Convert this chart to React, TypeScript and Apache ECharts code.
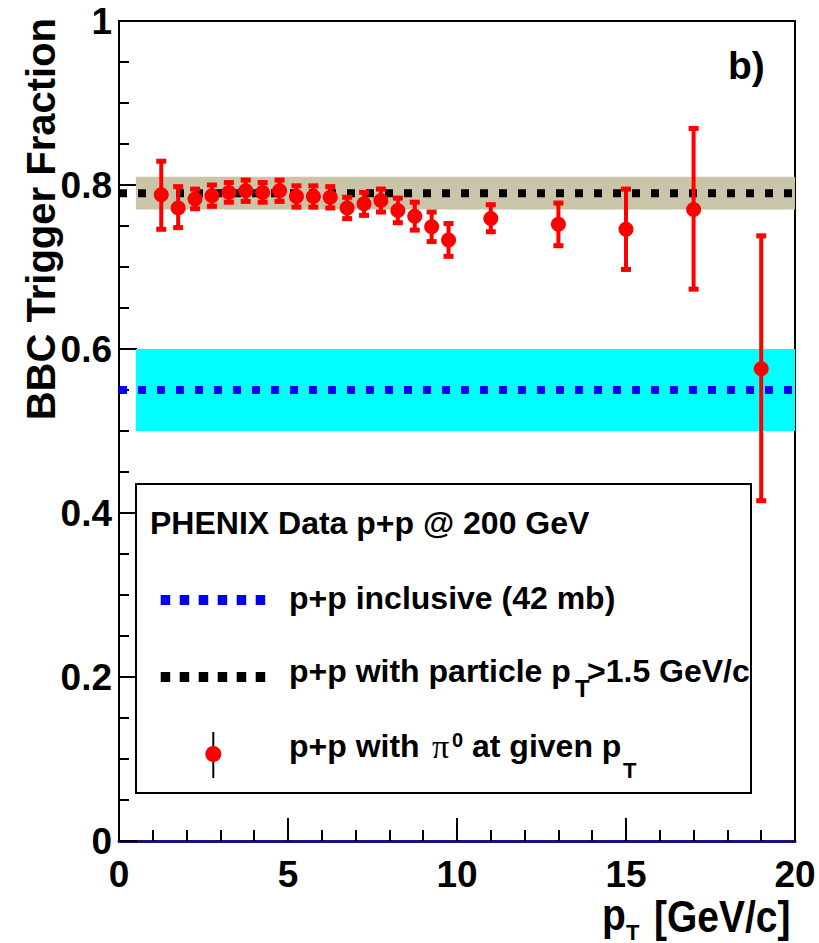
import React, { useEffect, useRef } from "react";
import * as echarts from "echarts";

// ---- data ----
const PT = [1.25, 1.75, 2.25, 2.75, 3.25, 3.75, 4.25, 4.75, 5.25, 5.75, 6.25, 6.75, 7.25, 7.75, 8.25, 8.75, 9.25, 9.75, 11, 13, 15, 17, 19];
const FRACTION = [0.788, 0.772, 0.783, 0.787, 0.791, 0.793, 0.791, 0.793, 0.786, 0.786, 0.785, 0.772, 0.777, 0.781, 0.769, 0.762, 0.749, 0.733, 0.759, 0.752, 0.746, 0.770, 0.576];
const ERR_LOW = [0.746, 0.748, 0.771, 0.774, 0.779, 0.780, 0.779, 0.780, 0.773, 0.773, 0.772, 0.759, 0.763, 0.767, 0.754, 0.745, 0.731, 0.713, 0.743, 0.726, 0.697, 0.673, 0.415];
const ERR_HIGH = [0.829, 0.798, 0.795, 0.800, 0.803, 0.806, 0.803, 0.806, 0.799, 0.799, 0.798, 0.785, 0.791, 0.795, 0.784, 0.779, 0.767, 0.753, 0.776, 0.778, 0.795, 0.869, 0.738];

const INCLUSIVE_LEVEL = 0.55;
const INCLUSIVE_BAND = [0.5, 0.6];
const PARTICLE_LEVEL = 0.79;
const PARTICLE_BAND = [0.77, 0.81];
const BAND_X = [0.5, 20];
const X_RANGE = [0, 20];
const Y_RANGE = [0, 1];

const SANS = '"Liberation Sans", Arial, Helvetica, sans-serif';

function buildOption() {
  const bandData = [
    [BAND_X[0], BAND_X[1], INCLUSIVE_BAND[0], INCLUSIVE_BAND[1]],
    [BAND_X[0], BAND_X[1], PARTICLE_BAND[0], PARTICLE_BAND[1]],
  ];
  const bandColors = ["#00FFFF", "#CAC4A8"];
  const errData = PT.map((x, i) => [x, ERR_LOW[i], ERR_HIGH[i]]);
  const pointData = PT.map((x, i) => [x, FRACTION[i]]);

  const txt = (text: string, x: number, y: number, size: number, opts: any = {}) => ({
    type: "text",
    z: 100,
    x: opts.x0 || 0,
    y: opts.y0 || 0,
    rotation: opts.rotation || 0,
    scaleX: opts.scaleX || 1,
    scaleY: opts.scaleY || 1,
    style: {
      text,
      x,
      y,
      fill: "#000",
      fontSize: size,
      fontWeight: opts.weight || "bold",
      fontFamily: opts.family || SANS,
      align: opts.align || "left",
      verticalAlign: "middle",
      textAlign: opts.align || "left",
      textVerticalAlign: "middle",
    },
  });

  return {
    animation: false,
    backgroundColor: "#fff",
    grid: {
      left: 119,
      right: 24,
      top: 21,
      bottom: 102,
      show: true,
      borderColor: "#000",
      borderWidth: 2,
      backgroundColor: "transparent",
    },
    xAxis: {
      type: "value",
      min: X_RANGE[0],
      max: X_RANGE[1],
      interval: 5,
      axisLine: { show: true, lineStyle: { color: "#14147a", width: 3 } },
      axisTick: { show: true, inside: true, length: 23, lineStyle: { color: "#000", width: 2 } },
      minorTick: { show: true, splitNumber: 5, length: 11, lineStyle: { color: "#000", width: 2 } },
      splitLine: { show: false },
      axisLabel: {
        margin: 15,
        color: "#000",
        fontSize: 37,
        fontWeight: "bold",
        fontFamily: SANS,
      },
    },
    yAxis: {
      type: "value",
      min: Y_RANGE[0],
      max: Y_RANGE[1],
      interval: 0.2,
      axisLine: { show: true, lineStyle: { color: "#000", width: 2 } },
      axisTick: { show: true, inside: true, length: 18, lineStyle: { color: "#000", width: 2 } },
      minorTick: { show: true, splitNumber: 4, length: 10, lineStyle: { color: "#000", width: 2 } },
      splitLine: { show: false },
      axisLabel: {
        margin: 7,
        color: "#000",
        fontSize: 37,
        fontWeight: "bold",
        fontFamily: SANS,
        formatter: (v: number) => (v === 0 ? "0" : v === 1 ? "1" : v.toFixed(1)),
      },
    },
    series: [
      {
        type: "custom",
        name: "bands",
        z: 1,
        silent: true,
        data: bandData,
        encode: { x: [0, 1], y: [2, 3] },
        renderItem: (params: any, api: any) => {
          const p0 = api.coord([api.value(0), api.value(3)]);
          const p1 = api.coord([api.value(1), api.value(2)]);
          return {
            type: "rect",
            shape: { x: p0[0], y: p0[1], width: p1[0] - p0[0], height: p1[1] - p0[1] },
            style: { fill: bandColors[params.dataIndex] },
          };
        },
      },
      {
        type: "line",
        name: "p+p inclusive (42 mb)",
        z: 2,
        silent: true,
        showSymbol: false,
        symbol: "none",
        data: [[X_RANGE[0], INCLUSIVE_LEVEL], [X_RANGE[1], INCLUSIVE_LEVEL]],
        lineStyle: { color: "#0000FF", width: 8, type: [8, 11], cap: "butt" },
      },
      {
        type: "line",
        name: "p+p with particle pT>1.5 GeV/c",
        z: 2,
        silent: true,
        showSymbol: false,
        symbol: "none",
        data: [[X_RANGE[0], PARTICLE_LEVEL], [X_RANGE[1], PARTICLE_LEVEL]],
        lineStyle: { color: "#000000", width: 8, type: [8, 11], cap: "butt" },
      },
      {
        type: "custom",
        name: "errors",
        z: 3,
        silent: true,
        data: errData,
        encode: { x: 0, y: [1, 2] },
        renderItem: (params: any, api: any) => {
          const x = api.value(0);
          const top = api.coord([x, api.value(2)]);
          const bot = api.coord([x, api.value(1)]);
          return {
            type: "group",
            children: [
              {
                type: "line",
                shape: { x1: top[0], y1: top[1], x2: bot[0], y2: bot[1] },
                style: { stroke: "#FF0000", lineWidth: 4 },
              },
              {
                type: "rect",
                shape: { x: top[0] - 5, y: top[1] - 2.5, width: 10, height: 5 },
                style: { fill: "#FF0000" },
              },
              {
                type: "rect",
                shape: { x: bot[0] - 5, y: bot[1] - 2.5, width: 10, height: 5 },
                style: { fill: "#FF0000" },
              },
            ],
          };
        },
      },
      {
        type: "scatter",
        name: "p+p with pi0 at given pT",
        z: 4,
        symbol: "circle",
        symbolSize: 15,
        itemStyle: { color: "#FF0000", opacity: 1 },
        data: pointData,
      },
    ],
    graphic: [
      // legend box
      {
        type: "rect",
        z: 90,
        shape: { x: 136, y: 484, width: 615, height: 309 },
        style: { fill: "#fff", stroke: "#000", lineWidth: 2 },
      },
      txt("PHENIX Data p+p @ 200 GeV", 150, 522.5, 32),
      {
        type: "line",
        z: 100,
        shape: { x1: 160.7, y1: 600, x2: 265.3, y2: 600 },
        style: { stroke: "#0000FF", lineWidth: 10, lineDash: [9.5, 9.5] },
      },
      txt("p+p inclusive (42 mb)", 289, 598, 32),
      {
        type: "line",
        z: 100,
        shape: { x1: 160.7, y1: 677, x2: 265.3, y2: 677 },
        style: { stroke: "#000000", lineWidth: 10, lineDash: [9.5, 9.5] },
      },
      txt("p+p with particle p", 289, 670.5, 32),
      txt("T", 575, 688, 24),
      txt(">1.5 GeV/c", 587, 670.5, 32),
      {
        type: "line",
        z: 100,
        shape: { x1: 213.3, y1: 732, x2: 213.3, y2: 778 },
        style: { stroke: "#000", lineWidth: 2 },
      },
      {
        type: "circle",
        z: 101,
        shape: { cx: 213.3, cy: 754, r: 8 },
        style: { fill: "#FF0000" },
      },
      txt("p+p with", 289, 746, 32),
      txt("π", 432, 746, 34, { weight: "normal", family: '"Liberation Serif", "Times New Roman", serif' }),
      txt("0", 452, 740, 20),
      txt("at given p", 472, 746, 32),
      txt("T", 623, 770, 22),
      // panel label
      txt("b)", 728, 65, 39),
      // axis titles
      txt("BBC Trigger Fraction", 0, 0, 40, { x0: 41, y0: 18, rotation: Math.PI / 2, align: "right" }),
      txt("p", 0, 0, 39, { x0: 602, y0: 915, scaleY: 1.12 }),
      txt("T", 0, 0, 22, { x0: 626, y0: 932 }),
      txt("[GeV/c]", 0, 0, 39, { x0: 654, y0: 917, scaleY: 1.12 }),
    ],
  };
}

export default function App() {
  const ref = useRef<HTMLDivElement>(null);
  useEffect(() => {
    if (!ref.current) return;
    const chart = echarts.init(ref.current, null, { renderer: "svg" });
    chart.setOption(buildOption() as any);
    return () => chart.dispose();
  }, []);
  return (
    <div
      ref={ref}
      style={{ position: "absolute", left: 0, top: 0, width: 819, height: 943 }}
    />
  );
}
